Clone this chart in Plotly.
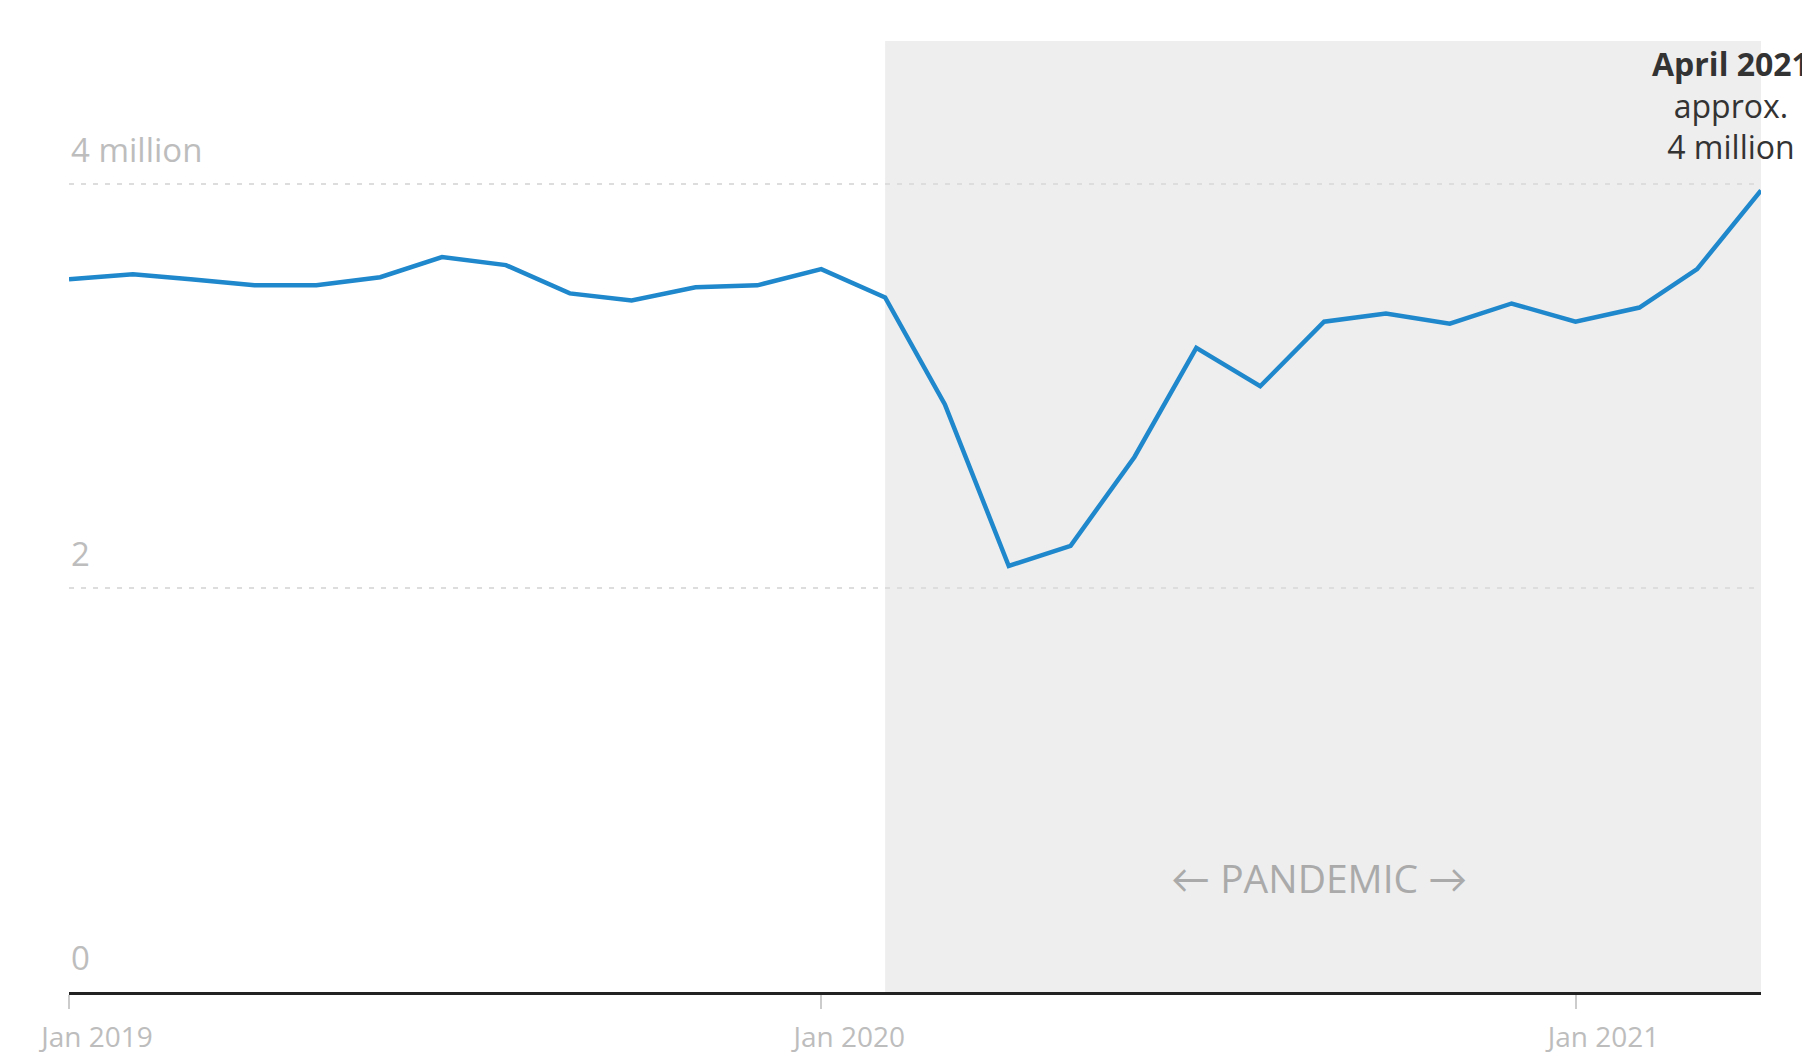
import plotly.graph_objects as go

months = ["2019-01-01","2019-02-01","2019-03-01","2019-04-01","2019-05-01","2019-06-01",
          "2019-07-01","2019-08-01","2019-09-01","2019-10-01","2019-11-01","2019-12-01",
          "2020-01-01","2020-02-01","2020-03-01","2020-04-01","2020-05-01","2020-06-01",
          "2020-07-01","2020-08-01","2020-09-01","2020-10-01","2020-11-01","2020-12-01",
          "2021-01-01","2021-02-01","2021-03-01","2021-04-01"]
values_m = [3.53, 3.555, 3.53, 3.50, 3.50, 3.54,
            3.64, 3.60, 3.46, 3.425, 3.49, 3.50,
            3.58, 3.44, 2.91, 2.11, 2.21, 2.65,
            3.19, 3.00, 3.32, 3.36, 3.31, 3.41,
            3.32, 3.39, 3.58, 3.97]
x_tick_vals = ["2019-01-01", "2020-01-01", "2021-01-01"]
x_tick_text = ["Jan 2019", "Jan 2020", "Jan 2021"]
y_tick_vals = [0, 2, 4]
y_tick_text = ["0", "2", "4 million"]
pandemic_start = "2020-02-01"
pandemic_end = "2021-04-01"

FONT = "Open Sans"
GREY = "#bdbdbd"

fig = go.Figure()
fig.add_trace(go.Scatter(x=months, y=values_m, mode="lines",
                         line=dict(color="#1f87cc", width=4.5),
                         hoverinfo="x+y", showlegend=False))

fig.add_shape(type="rect", xref="x", yref="paper",
              x0=pandemic_start, x1=pandemic_end, y0=0, y1=1,
              fillcolor="#eeeeee", line=dict(width=0), layer="below")

for v, t in zip(y_tick_vals, y_tick_text):
    fig.add_annotation(x=0, xref="paper", y=v, yref="y", text=t,
                       showarrow=False, xanchor="left", yanchor="bottom",
                       yshift=10, font=dict(family=FONT, size=33, color=GREY))

fig.add_annotation(x="2020-09-01", xref="x", y=0.12, yref="paper",
                   text='<span style="font-family:Lato">←</span> PANDEMIC '
                        '<span style="font-family:Lato">→</span>',
                   showarrow=False,
                   xanchor="center", yanchor="middle", xshift=-5,
                   font=dict(family=FONT, size=39, color="#aaaaaa"))

fig.add_annotation(x=pandemic_end, xref="x", y=values_m[-1], yref="y",
                   text="<b>April 2021</b><br>approx.<br>4 million",
                   showarrow=False, xanchor="center", yanchor="bottom",
                   align="center", xshift=-30, yshift=20,
                   font=dict(family=FONT, size=32, color="#333333"))

fig.update_layout(
    width=1810, height=1059,
    margin=dict(l=61, r=57, t=33, b=58),
    paper_bgcolor="white", plot_bgcolor="rgba(0,0,0,0)",
    font=dict(family=FONT),
    xaxis=dict(type="date", range=["2019-01-01", "2021-04-01"],
               tickvals=x_tick_vals, ticktext=x_tick_text,
               ticks="outside", ticklen=14, tickcolor="#cccccc", tickwidth=1.5,
               ticklabelshift=28, ticklabelstandoff=4,
               tickfont=dict(family=FONT, size=28, color=GREY),
               showgrid=False, zeroline=False,
               showline=True, linecolor="#222222", linewidth=3),
    yaxis=dict(range=[0, 4.71], tickvals=[2, 4], showticklabels=False,
               showgrid=True, gridcolor="#dddddd", griddash="5px,7px", gridwidth=2,
               zeroline=False, showline=False),
)

fig.write_html("out.html")
